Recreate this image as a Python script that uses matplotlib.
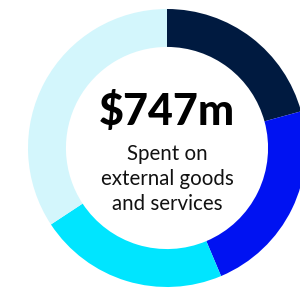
import matplotlib.pyplot as plt

# spend split (in $m), read from the ring, clockwise from 12 o'clock
segments = ["A", "B", "C", "D"]
values = [155, 171, 165, 256]
colors = ["#001a40", "#0012f2", "#00e5ff", "#d3f6fc"]
total_label = "$747m"
sub_label = "Spent on\nexternal goods\nand services"

fig = plt.figure(figsize=(3.0, 2.89), dpi=100)
ax = fig.add_axes([0, 0, 1, 1])

ax.pie(values, colors=colors, startangle=90, counterclock=False,
       radius=1.0, wedgeprops=dict(width=0.273, edgecolor="none"))

# ring centre sits off-centre, the right edge is cut off
ax.set_aspect("auto")
ax.set_xlim(-167 / 139, (300 - 167) / 139)
ax.set_ylim(-(289 - 148) / 139, 148 / 139)
ax.axis("off")

ax.text(0, 0.265, total_label, ha="center", va="center",
        fontsize=31, fontweight="black", family="Lato", color="black")
ax.text(0, -0.225, sub_label, ha="center", va="center",
        fontsize=14.8, family="Lato", color="#111111", linespacing=1.3)

fig.savefig("out.png", dpi=100)
